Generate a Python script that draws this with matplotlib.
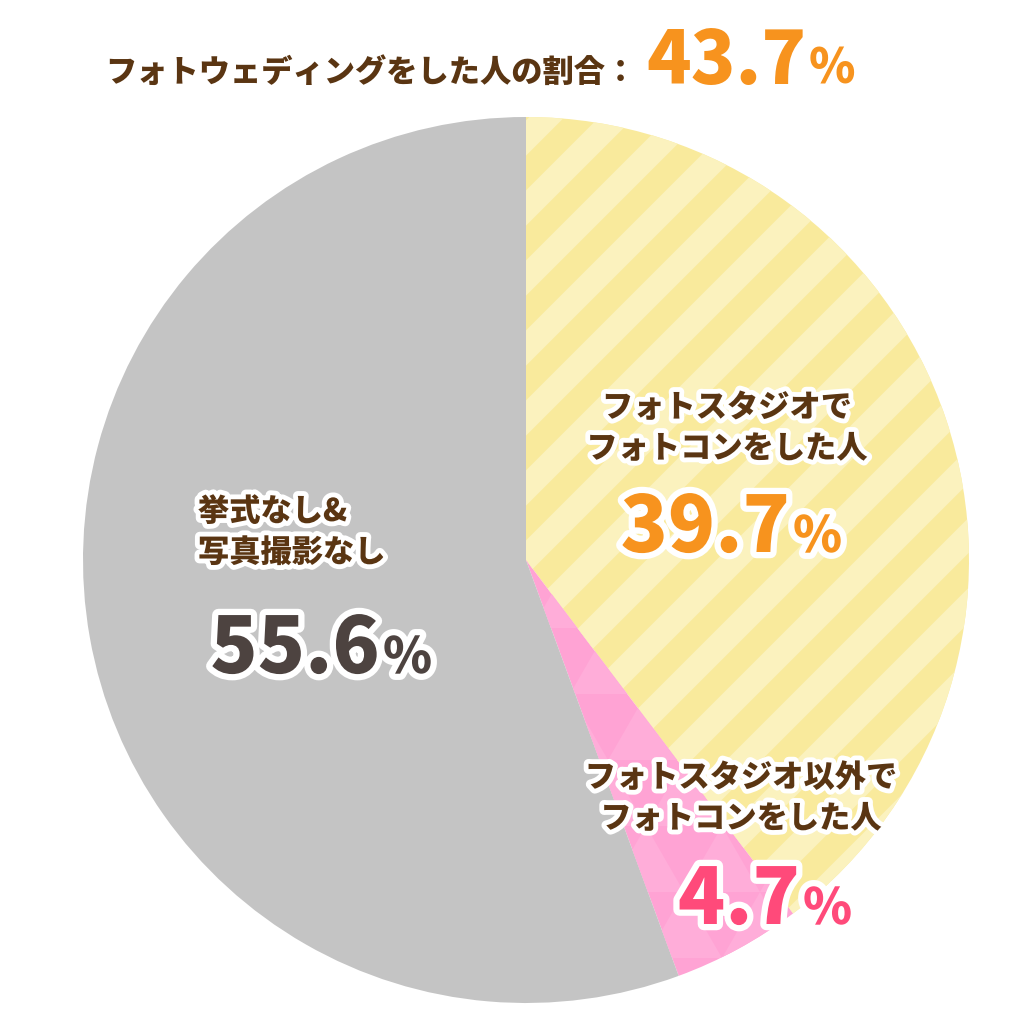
import numpy as np
import matplotlib.pyplot as plt
import matplotlib.patheffects as pe

plt.rcParams['font.family'] = ['Noto Sans CJK JP', 'DejaVu Sans']

# data
labels = ["フォトスタジオで\nフォトコンをした人", "フォトスタジオ以外で\nフォトコンをした人", "挙式なし&\n写真撮影なし"]
values = [39.7, 4.7, 55.6]
value_text = ["39.7", "4.7", "55.6"]
colors = ["#F9EA9C", "#FFA3D4", "#C4C4C4"]
value_colors = ["#F7931E", "#FF4A7A", "#4D4340"]
title_text = "フォトウェディングをした人の割合："
title_value = "43.7"

BROWN = "#5A3512"

fig = plt.figure(figsize=(10.24, 10.24), dpi=100)
ax = fig.add_axes([0, 0, 1, 1])

cx, cy, r = 526, 1024 - 560, 443
wedges, _ = ax.pie(values, colors=colors, startangle=90, counterclock=False,
                   center=(cx, cy), radius=r, frame=True,
                   wedgeprops=dict(linewidth=0))
ax.set_xlim(0, 1024)
ax.set_ylim(0, 1024)
ax.set_aspect("equal")
ax.axis("off")

# light diagonal stripes in the yellow slice
for k in np.arange(-1200, 1200, 70):
    ln, = ax.plot([k, k + 1100], [0, 1100], color="#FBF2BE", lw=18,
                  solid_capstyle="butt", zorder=2)
    ln.set_clip_path(wedges[0])

# faint triangle pattern in the pink slice
tri_w, tri_h = 76, 66
for row in range(0, 18):
    y0 = row * tri_h
    for col in range(-2, 30):
        x0 = col * tri_w + (tri_w / 2 if row % 2 else 0)
        tri = plt.Polygon([[x0, y0], [x0 + tri_w, y0], [x0 + tri_w / 2, y0 + tri_h]],
                          closed=True, facecolor="#FFADD9",
                          edgecolor="none", zorder=2)
        ax.add_patch(tri)
        tri.set_clip_path(wedges[1])

stroke = [pe.withStroke(linewidth=7, foreground="white")]
big_stroke = [pe.withStroke(linewidth=9, foreground="white")]


def value_label(x, y, num, color, size=56):
    ax.text(x, y, num, ha="right", va="baseline", fontsize=size,
            fontweight="black", color=color, path_effects=big_stroke, zorder=5)
    ax.text(x + 3, y, "%", ha="left", va="baseline", fontsize=size * 0.64,
            fontweight="black", color=color, path_effects=big_stroke, zorder=5)


# slice labels
ax.text(727, 1024 - 428, labels[0], ha="center", va="center", fontsize=22.5,
        fontweight="black", color=BROWN, linespacing=1.4,
        path_effects=stroke, zorder=5)
value_label(790, 1024 - 552, value_text[0], value_colors[0])

ax.text(741, 1024 - 798, labels[1], ha="center", va="center", fontsize=22.5,
        fontweight="black", color=BROWN, linespacing=1.4,
        path_effects=stroke, zorder=5)
value_label(800, 1024 - 924, value_text[1], value_colors[1])

ax.text(198, 1024 - 532, labels[2], ha="left", va="center", fontsize=22.5,
        fontweight="black", color=BROWN, linespacing=1.4,
        path_effects=stroke, zorder=5)
value_label(380, 1024 - 673, value_text[2], value_colors[2])

# title
ax.text(636, 1024 - 82, title_text, ha="right", va="baseline", fontsize=22.5,
        fontweight="black", color=BROWN, zorder=5)
ax.text(806, 1024 - 84, title_value, ha="right", va="baseline", fontsize=53,
        fontweight="black", color="#F7931E", zorder=5)
ax.text(809, 1024 - 84, "%", ha="left", va="baseline", fontsize=53 * 0.64,
        fontweight="black", color="#F7931E", zorder=5)

fig.savefig("out.png", dpi=100, facecolor="white")
